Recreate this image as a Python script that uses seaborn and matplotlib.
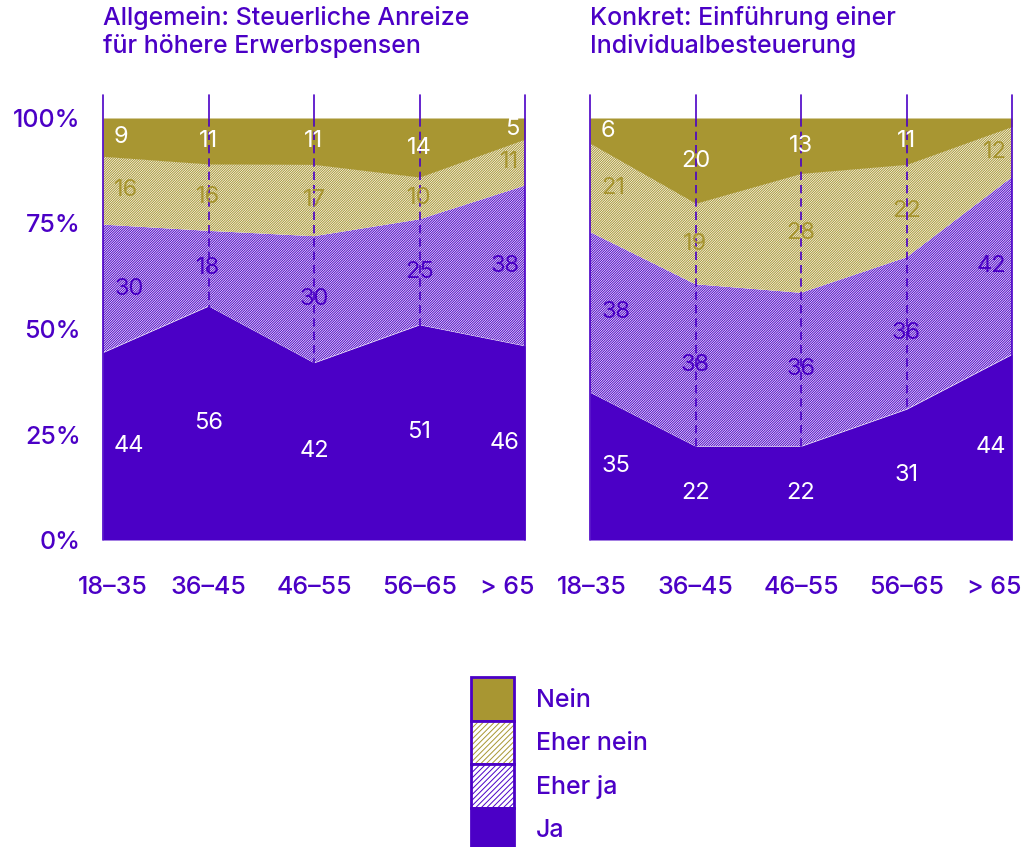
import numpy as np
import seaborn as sns
import matplotlib.pyplot as plt
import matplotlib.transforms as mtransforms
from matplotlib.patches import Patch

# Data (percent of respondents per age group)
categories = ['18–35', '36–45', '46–55', '56–65', '> 65']
series_names = ['Ja', 'Eher ja', 'Eher nein', 'Nein']

left_ja = [44, 56, 42, 51, 46]
left_eher_ja = [30, 18, 30, 25, 38]
left_eher_nein = [16, 16, 17, 10, 11]
left_nein = [9, 11, 11, 14, 5]

right_ja = [35, 22, 22, 31, 44]
right_eher_ja = [38, 38, 36, 36, 42]
right_eher_nein = [21, 19, 28, 22, 12]
right_nein = [6, 20, 13, 11, 2]

left_title = 'Allgemein: Steuerliche Anreize\nfür höhere Erwerbspensen'
right_title = 'Konkret: Einführung einer\nIndividualbesteuerung'

purple = '#4B00C6'
olive = '#A89632'

sns.set_theme(style='white')
plt.rcParams['font.family'] = ['Inter', 'DejaVu Sans']
plt.rcParams['hatch.linewidth'] = 0.7

fig = plt.figure(figsize=(10.24, 8.47), dpi=100)
ax1 = fig.add_axes([103 / 1024, 1 - 540 / 847, 422 / 1024, 422 / 847])
ax2 = fig.add_axes([590 / 1024, 1 - 540 / 847, 422 / 1024, 422 / 847])

# fill, hatch colour, hatch pattern, label colour for each series
styles = [
    (purple, purple, None, 'white'),
    ('white', purple, '/' * 14, purple),
    ('white', olive, '/' * 14, olive),
    (olive, olive, None, 'white'),
]


def draw_panel(ax, series, title, show_y, end_shift):
    vals = np.array(series, dtype=float)
    pct = vals / vals.sum(axis=0) * 100
    x = np.arange(len(categories))

    polys = ax.stackplot(x, pct, linewidth=0)
    for poly, (fc, ec, hatch, _) in zip(polys, styles):
        poly.set_facecolor(fc)
        poly.set_edgecolor(ec)
        poly.set_linewidth(0)
        if hatch:
            poly.set_hatch(hatch)

    # value labels in the middle of each band
    bottom = np.zeros(len(categories))
    for k, (_, _, _, tc) in enumerate(styles):
        mid = bottom + pct[k] / 2
        for i in x:
            if vals[k, i] < 4:
                continue
            if i == 0:
                ha, dx = 'left', 8
            elif i == len(x) - 1:
                ha, dx = 'right', -4
            else:
                ha, dx = 'center', 0
            ax.annotate(f'{int(vals[k, i])}', (i, mid[i]), xytext=(dx, 0),
                        textcoords='offset points', ha=ha, va='center',
                        fontsize=17, color=tc, zorder=5)
        bottom += pct[k]

    # vertical guide lines
    for i in x:
        if i == 0 or i == len(x) - 1:
            ax.axvline(i, ymin=0, ymax=1.055, color=purple, lw=1.2, clip_on=False, zorder=4)
        else:
            ax.axvline(i, ymin=0, ymax=1, color=purple, lw=1.2, ls=(0, (5, 3)), zorder=4)
            ax.axvline(i, ymin=1, ymax=1.055, color=purple, lw=1.2, clip_on=False, zorder=4)

    ax.set_xlim(0, len(x) - 1)
    ax.set_ylim(0, 100)
    ax.set_xticks(x)
    ax.set_xticklabels(categories, fontsize=18, color=purple, fontweight='medium')
    ax.tick_params(axis='x', length=16, width=1.2, color=purple, pad=10, direction='out')
    ax.set_yticks([0, 25, 50, 75, 100])
    ax.set_yticklabels(['0%', '25%', '50%', '75%', '100%'], fontsize=18, color=purple,
                       fontweight='medium')
    ax.tick_params(axis='y', length=0, pad=16, labelleft=show_y)
    for s in ax.spines.values():
        s.set_visible(False)
    ax.grid(False)

    # pull the outer tick labels inwards like the original
    labs = ax.get_xticklabels()
    for lab, px in ((labs[0], end_shift[0]), (labs[-1], end_shift[1])):
        off = mtransforms.ScaledTranslation(px / 100, 0, fig.dpi_scale_trans)
        lab.set_transform(lab.get_transform() + off)

    ax.text(0, 1 + 112 / 422, title, transform=ax.transAxes, ha='left', va='top',
            fontsize=18, color=purple, fontweight='medium', linespacing=1.2)


draw_panel(ax1, [left_ja, left_eher_ja, left_eher_nein, left_nein], left_title, True, (10, -18))
draw_panel(ax2, [right_ja, right_eher_ja, right_eher_nein, right_nein], right_title, False, (2, -18))

# legend: Nein on top, Ja at the bottom
border = Patch(facecolor='none', edgecolor=purple, linewidth=2)
handles = [
    (Patch(facecolor=olive, linewidth=0), border),
    (Patch(facecolor='white', edgecolor=olive, hatch='//////', linewidth=0), border),
    (Patch(facecolor='white', edgecolor=purple, hatch='//////', linewidth=0), border),
    (Patch(facecolor=purple, linewidth=0), border),
]
labels = series_names[::-1]
leg = fig.legend(handles, labels, loc='upper left', bbox_to_anchor=(471 / 1024, 1 - 677 / 847),
                 frameon=False, borderpad=0, borderaxespad=0, labelspacing=0,
                 handlelength=1.7, handleheight=2.3, handletextpad=0.9,
                 fontsize=18)
for t in leg.get_texts():
    t.set_color(purple)
    t.set_fontweight('medium')

fig.savefig('out.png', dpi=100)
